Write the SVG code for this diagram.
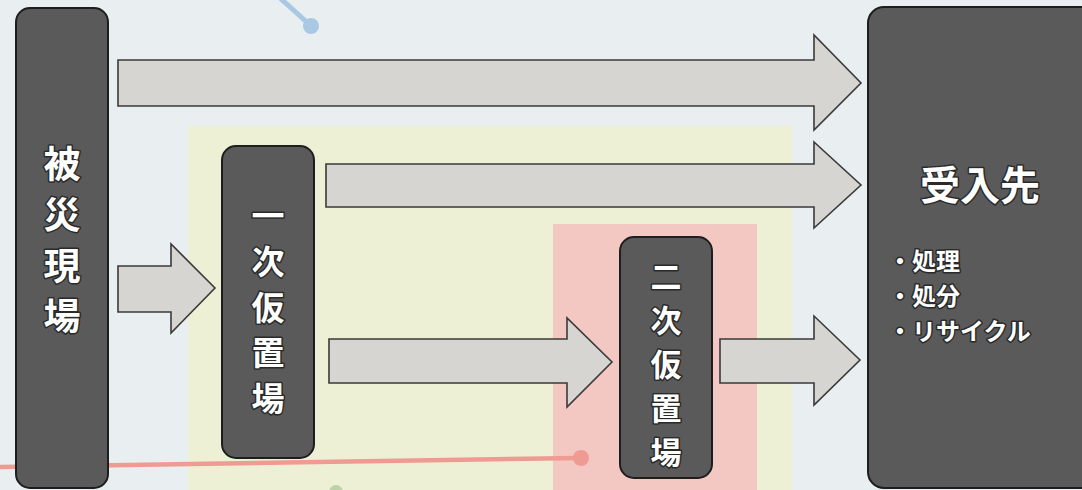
<svg xmlns="http://www.w3.org/2000/svg" width="1082" height="490" viewBox="0 0 1082 490">
<style>
.node{fill:#5a5a5a;stroke:#1e1e1e;stroke-width:2}
.arrow{fill:#d7d5d1;stroke:#3a3a3a;stroke-width:1.6;stroke-linejoin:miter}
.t{font-family:"Noto Sans CJK JP","Noto Sans CJK SC",sans-serif;font-weight:bold;fill:#ffffff;stroke:#2a2a2a;stroke-width:3;paint-order:stroke;stroke-linejoin:round;text-anchor:middle;dominant-baseline:central}
.v1{font-size:37px}
.v2{font-size:33px}
.v3{font-size:31px}
.b{font-size:24px;text-anchor:start}
</style>
<rect width="1082" height="490" fill="#e9eef0"/>
<g id="panels">
<rect x="188" y="126" width="604" height="370" fill="#eef0d6"/>
<rect x="553" y="224" width="204" height="270" fill="#f3c7c2"/>
</g>
<g id="leaders">
<line x1="280" y1="-2" x2="310" y2="25" stroke="#a9c8e4" stroke-width="5"/>
<circle cx="311" cy="26" r="8" fill="#a9c8e4"/>
<line x1="0" y1="467" x2="578" y2="458" stroke="#f09a94" stroke-width="4.5"/>
<circle cx="581" cy="458" r="8" fill="#f09a94"/>
<circle cx="336" cy="492" r="7" fill="#b9d5a8"/>
</g>
<g id="connectors">
<polygon class="arrow" points="118,60 814,60 814,35 861,83 814,130 814,106 118,106"/>
<polygon class="arrow" points="326,164 814,164 814,142 861,185 814,228 814,207 326,207"/>
<polygon class="arrow" points="118,266 171,266 171,244 215,288 171,333 171,312 118,312"/>
<polygon class="arrow" points="329,339 567,339 567,318 612,362 567,407 567,383 329,383"/>
<polygon class="arrow" points="720,339 814,339 814,316 860,360 814,405 814,383 720,383"/>
</g>
<g id="node-hisai">
<rect class="node" x="16" y="8" width="92" height="480" rx="14"/>
<text class="t v1" x="62" y="162">被</text>
<text class="t v1" x="62" y="213">災</text>
<text class="t v1" x="62" y="264">現</text>
<text class="t v1" x="62" y="314">場</text>
</g>
<g id="node-ichiji">
<rect class="node" x="222" y="146" width="92" height="312" rx="14"/>
<text class="t v2" x="268" y="214">一</text>
<text class="t v2" x="268" y="260">次</text>
<text class="t v2" x="268" y="306">仮</text>
<text class="t v2" x="268" y="351">置</text>
<text class="t v2" x="268" y="397">場</text>
</g>
<g id="node-niji">
<rect class="node" x="620" y="237" width="92" height="241" rx="14"/>
<text class="t v3" x="666" y="274">二</text>
<text class="t v3" x="666" y="318">次</text>
<text class="t v3" x="666" y="362">仮</text>
<text class="t v3" x="666" y="406">置</text>
<text class="t v3" x="666" y="450">場</text>
</g>
<g id="node-ukeire">
<rect class="node" x="868" y="7" width="230" height="481" rx="16"/>
<text class="t" x="980" y="183" font-size="40">受入先</text>
<text class="t b" x="888" y="259">・処理</text>
<text class="t b" x="888" y="294">・処分</text>
<text class="t b" x="888" y="329">・リサイクル</text>
</g>
</svg>
